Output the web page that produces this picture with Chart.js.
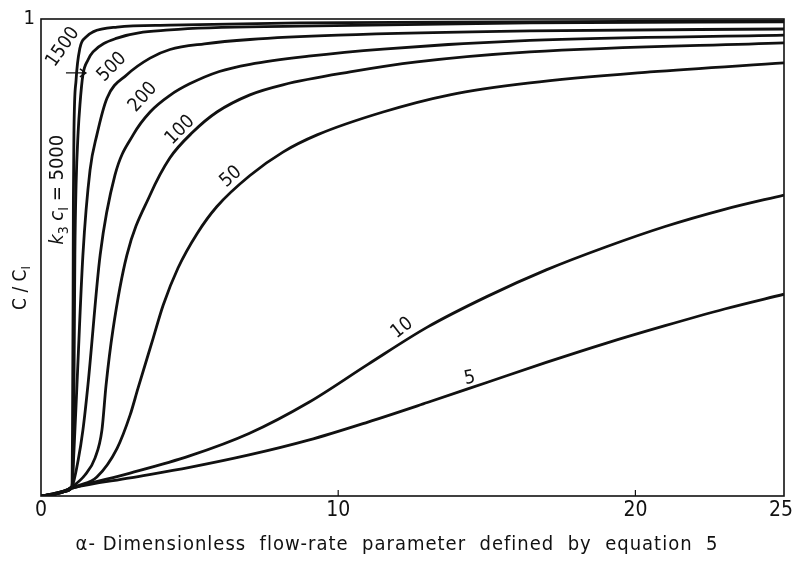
<!DOCTYPE html>
<html>
<head>
<meta charset="utf-8">
<script src="https://cdn.jsdelivr.net/npm/chart.js@4.4.1/dist/chart.umd.min.js"></script>
<style>
  html, body { margin: 0; padding: 0; background: #fff; }
</style>
</head>
<body>
<canvas id="graph" width="793" height="566"></canvas>
<script>
//---------------------------------------------------------------------
// DONNÉES - alpha en x, C/CI en y
//---------------------------------------------------------------------
const xTicks = [0, 10, 20, 25];
const yTicks = [1];

const x5000 = [0, 0.47, 0.81, 1.04, 1.06, 1.08, 1.09, 1.11, 1.18, 1.31, 1.51, 1.75, 2.56, 4.34, 8.7, 15.4, 25];
const y5000 = [0, 0.004, 0.010, 0.019, 0.14, 0.41, 0.62, 0.767, 0.872, 0.939, 0.962, 0.973, 0.983, 0.987, 0.992, 0.994, 0.996];

const x1500 = [0, 0.47, 0.81, 1.04, 1.09, 1.11, 1.14, 1.18, 1.25, 1.31, 1.41, 1.58, 1.75, 2.56, 4.34, 8.7, 16.45, 25];
const y1500 = [0, 0.004, 0.010, 0.019, 0.117, 0.233, 0.505, 0.652, 0.763, 0.82, 0.883, 0.914, 0.931, 0.960, 0.977, 0.985, 0.992, 0.994];

const x500 = [0, 0.47, 0.81, 1.04, 1.11, 1.21, 1.41, 1.65, 1.88, 2.22, 2.89, 3.67, 4.34, 5.5, 7.03, 10, 16.45, 25];
const y500 = [0, 0.004, 0.010, 0.019, 0.096, 0.233, 0.505, 0.683, 0.757, 0.834, 0.883, 0.918, 0.936, 0.948, 0.957, 0.966, 0.975, 0.979];

const x200 = [0, 0.47, 0.81, 1.04, 1.25, 1.41, 1.58, 1.99, 2.49, 3.10, 3.67, 4.34, 5.0, 6.0, 7.03, 9, 11.51, 16.45, 25];
const y200 = [0, 0.004, 0.010, 0.019, 0.075, 0.138, 0.233, 0.505, 0.673, 0.757, 0.805, 0.840, 0.864, 0.890, 0.905, 0.922, 0.937, 0.955, 0.966];

const x100 = [0, 0.47, 0.81, 1.04, 1.48, 1.82, 2.05, 2.19, 2.42, 2.89, 3.67, 4.34, 5.11, 5.92, 7.03, 8.14, 10.4, 12.65, 16.45, 25];
const y100 = [0, 0.004, 0.010, 0.019, 0.044, 0.080, 0.138, 0.233, 0.348, 0.505, 0.631, 0.709, 0.763, 0.805, 0.841, 0.862, 0.889, 0.910, 0.931, 0.950];

const x50 = [0, 0.47, 0.81, 1.04, 1.31, 1.88, 2.56, 3.00, 3.26, 3.77, 4.11, 4.61, 5.25, 5.92, 7.03, 8.14, 9.29, 11.51, 13.76, 16.45, 20.49, 25];
const y50 = [0, 0.004, 0.010, 0.019, 0.023, 0.040, 0.100, 0.170, 0.225, 0.330, 0.400, 0.478, 0.550, 0.607, 0.672, 0.721, 0.757, 0.805, 0.841, 0.866, 0.889, 0.908];

const x10 = [0, 0.64, 1.08, 3, 5, 7, 9, 11, 13, 15, 17, 19, 21, 23, 25];
const y10 = [0, 0.008, 0.017, 0.048, 0.084, 0.131, 0.196, 0.276, 0.354, 0.418, 0.474, 0.522, 0.565, 0.601, 0.631];

const x5 = [0, 0.64, 1.08, 3, 5, 7, 9, 11, 13, 15, 17, 19, 21, 23, 25];
const y5 = [0, 0.008, 0.017, 0.038, 0.060, 0.086, 0.117, 0.155, 0.196, 0.238, 0.280, 0.320, 0.357, 0.392, 0.423];

// étiquettes des courbes (position en unités du graphique, angle en degrés)
const curveLabels = [
    { text: '1500', x: 0.74, y: 0.941, rot: -55 },
    { text: '500',  x: 2.39, y: 0.899, rot: -45 },
    { text: '200',  x: 3.43, y: 0.836, rot: -48 },
    { text: '100',  x: 4.68, y: 0.767, rot: -45 },
    { text: '50',   x: 6.39, y: 0.669, rot: -42 },
    { text: '10',   x: 12.15, y: 0.352, rot: -38 },
    { text: '5',    x: 14.43, y: 0.247, rot: -12 }
];

const FONT = '"DejaVu Sans Condensed", "DejaVu Sans", sans-serif';
const INK = '#111';

function serie(xs, ys) {
    return {
        data: xs.map((x, i) => ({ x: x, y: ys[i] })),
        borderColor: INK,
        borderWidth: 2.8,
        pointRadius: 0,
        cubicInterpolationMode: 'monotone',
        fill: false
    };
}

//---------------------------------------------------------------------
// DÉCOR : cadre, petites graduations, étiquettes, titres
//---------------------------------------------------------------------
const decor = {
    id: 'decor',
    afterDatasetsDraw(chart) {
        const { ctx, chartArea: a, scales: { x, y } } = chart;
        ctx.save();
        ctx.strokeStyle = INK;
        ctx.fillStyle = INK;

        // cadre
        ctx.lineWidth = 1.6;
        ctx.strokeRect(a.left, a.top, a.right - a.left, a.bottom - a.top);

        // graduations internes sur l'axe x
        ctx.lineWidth = 1.2;
        [10, 20].forEach(v => {
            const px = x.getPixelForValue(v);
            ctx.beginPath();
            ctx.moveTo(px, a.bottom);
            ctx.lineTo(px, a.bottom - 6);
            ctx.stroke();
        });

        // étiquettes des courbes
        ctx.font = '19px ' + FONT;
        ctx.textAlign = 'center';
        ctx.textBaseline = 'middle';
        curveLabels.forEach(l => {
            ctx.save();
            ctx.translate(x.getPixelForValue(l.x), y.getPixelForValue(l.y));
            ctx.rotate(l.rot * Math.PI / 180);
            ctx.fillText(l.text, 0, 0);
            ctx.restore();
        });

        // flèche vers la courbe 1500
        const ay = y.getPixelForValue(0.887);
        const ax0 = x.getPixelForValue(0.84), ax1 = x.getPixelForValue(1.51);
        ctx.lineWidth = 1.4;
        ctx.beginPath();
        ctx.moveTo(ax0, ay); ctx.lineTo(ax1, ay);
        ctx.moveTo(ax1 - 6, ay - 4); ctx.lineTo(ax1, ay); ctx.lineTo(ax1 - 6, ay + 4);
        ctx.stroke();

        // k3 cI = 5000 (vertical)
        drawParts(ctx, [
            { t: 'k', f: 'italic 20px ' + FONT, dy: 0 },
            { t: '3', f: '14px ' + FONT, dy: 6 },
            { t: ' ', f: '20px ' + FONT, dy: 0 },
            { t: 'c', f: 'italic 20px ' + FONT, dy: 0 },
            { t: 'I', f: '14px ' + FONT, dy: 6 },
            { t: ' = 5000', f: '20px ' + FONT, dy: 0 }
        ], x.getPixelForValue(0.57), y.getPixelForValue(0.642));

        // titre axe y : C / CI
        drawParts(ctx, [
            { t: 'C / C', f: '19px ' + FONT, dy: 0 },
            { t: 'I', f: '13px ' + FONT, dy: 6 }
        ], 21, 288);

        // titre axe x
        ctx.font = '20px ' + FONT;
        ctx.textAlign = 'center';
        ctx.textBaseline = 'middle';
        if ('letterSpacing' in ctx) ctx.letterSpacing = '1px';
        ctx.fillText('\u03b1- Dimensionless  flow-rate  parameter  defined  by  equation  5', 397, 545);

        ctx.restore();
    }
};

function drawParts(ctx, parts, cx, cy) {
    ctx.save();
    ctx.translate(cx, cy);
    ctx.rotate(-Math.PI / 2);
    ctx.textAlign = 'left';
    ctx.textBaseline = 'middle';
    let total = 0;
    parts.forEach(p => { ctx.font = p.f; p.w = ctx.measureText(p.t).width; total += p.w; });
    let pos = -total / 2;
    parts.forEach(p => {
        ctx.font = p.f;
        ctx.fillText(p.t, pos, p.dy);
        pos += p.w;
    });
    ctx.restore();
}

//---------------------------------------------------------------------
// GRAPHIQUE
//---------------------------------------------------------------------
new Chart(document.getElementById('graph'), {
    type: 'line',
    data: {
        datasets: [
            serie(x5000, y5000),
            serie(x1500, y1500),
            serie(x500, y500),
            serie(x200, y200),
            serie(x100, y100),
            serie(x50, y50),
            serie(x10, y10),
            serie(x5, y5)
        ]
    },
    options: {
        responsive: false,
        animation: false,
        layout: { padding: { left: 0, right: 9, top: 19, bottom: 0 } },
        plugins: {
            legend: { display: false },
            tooltip: { enabled: false }
        },
        scales: {
            x: {
                type: 'linear',
                min: 0,
                max: 25,
                grid: { display: false, drawTicks: false },
                border: { display: false },
                afterBuildTicks: s => { s.ticks = xTicks.map(v => ({ value: v })); },
                ticks: {
                    color: INK,
                    font: { family: FONT, size: 21 },
                    padding: 2,
                    maxRotation: 0,
                    autoSkip: false,
                    callback: v => v === 25 ? '25 ' : String(v)
                },
                afterFit: s => { s.height = 70; s.paddingLeft = 0; s.paddingRight = 0; }
            },
            y: {
                type: 'linear',
                min: 0,
                max: 1,
                grid: { display: false, drawTicks: false },
                border: { display: false },
                afterBuildTicks: s => { s.ticks = yTicks.map(v => ({ value: v })); },
                ticks: {
                    color: INK,
                    font: { family: FONT, size: 20 },
                    padding: 6
                },
                afterFit: s => { s.width = 41; s.paddingTop = 0; s.paddingBottom = 0; }
            }
        }
    },
    plugins: [decor]
});
</script>
</body>
</html>
